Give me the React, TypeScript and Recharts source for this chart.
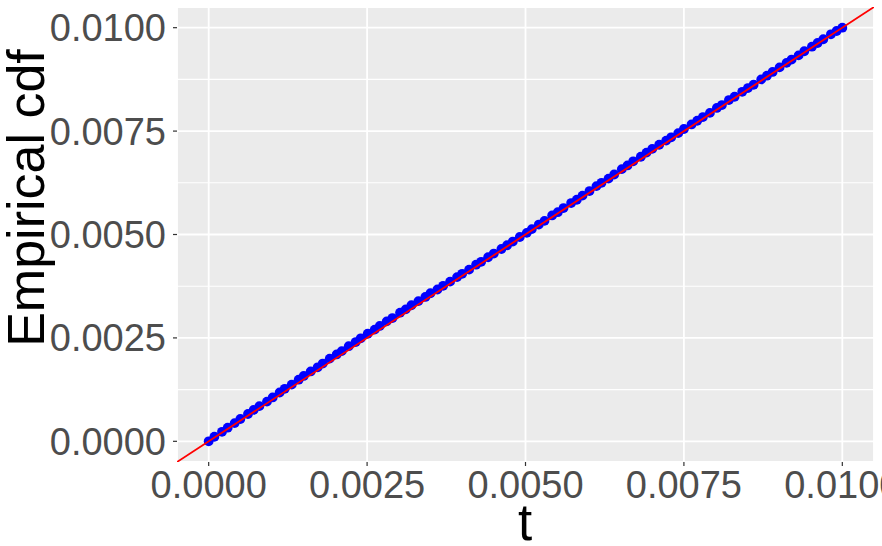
import React from 'react';
import { ScatterChart, Scatter, XAxis, YAxis, CartesianGrid, Label } from 'recharts';

// Empirical cdf points (t, F(t))
const tValues = [
  0.00000, 0.00009, 0.00021, 0.00030, 0.00041, 0.00050, 0.00062, 0.00071, 0.00080, 0.00092,
  0.00101, 0.00112, 0.00120, 0.00131, 0.00142, 0.00150, 0.00161, 0.00172, 0.00180, 0.00191,
  0.00202, 0.00210, 0.00221, 0.00232, 0.00240, 0.00251, 0.00262, 0.00270, 0.00281, 0.00290,
  0.00302, 0.00311, 0.00320, 0.00331, 0.00342, 0.00350, 0.00361, 0.00370, 0.00381, 0.00392,
  0.00400, 0.00411, 0.00422, 0.00430, 0.00441, 0.00450, 0.00462, 0.00471, 0.00480, 0.00491,
  0.00502, 0.00510, 0.00521, 0.00530, 0.00542, 0.00551, 0.00560, 0.00572, 0.00581, 0.00590,
  0.00601, 0.00612, 0.00620, 0.00631, 0.00640, 0.00652, 0.00661, 0.00670, 0.00682, 0.00691,
  0.00700, 0.00711, 0.00722, 0.00730, 0.00741, 0.00750, 0.00762, 0.00771, 0.00780, 0.00791,
  0.00802, 0.00810, 0.00821, 0.00830, 0.00842, 0.00851, 0.00860, 0.00872, 0.00881, 0.00890,
  0.00901, 0.00912, 0.00920, 0.00931, 0.00940, 0.00952, 0.00961, 0.00970, 0.00982, 0.00991,
  0.01000,
];
const cdfValues = [
  0.00000, 0.00011, 0.00023, 0.00033, 0.00044, 0.00054, 0.00066, 0.00076, 0.00085, 0.00096,
  0.00106, 0.00118, 0.00127, 0.00137, 0.00149, 0.00158, 0.00169, 0.00179, 0.00188, 0.00200,
  0.00210, 0.00218, 0.00230, 0.00240, 0.00249, 0.00260, 0.00270, 0.00279, 0.00290, 0.00298,
  0.00311, 0.00319, 0.00329, 0.00339, 0.00349, 0.00358, 0.00367, 0.00376, 0.00386, 0.00397,
  0.00405, 0.00415, 0.00427, 0.00434, 0.00445, 0.00454, 0.00465, 0.00474, 0.00483, 0.00494,
  0.00504, 0.00513, 0.00524, 0.00533, 0.00546, 0.00554, 0.00564, 0.00576, 0.00584, 0.00594,
  0.00605, 0.00617, 0.00625, 0.00635, 0.00645, 0.00658, 0.00667, 0.00677, 0.00688, 0.00698,
  0.00707, 0.00717, 0.00727, 0.00735, 0.00745, 0.00755, 0.00766, 0.00775, 0.00784, 0.00794,
  0.00806, 0.00813, 0.00825, 0.00833, 0.00845, 0.00854, 0.00862, 0.00875, 0.00884, 0.00893,
  0.00904, 0.00915, 0.00923, 0.00933, 0.00943, 0.00954, 0.00963, 0.00972, 0.00984, 0.00992,
  0.01000,
];

// Reference line y = x spanning the panel
const refLineValues = [-0.0005, 0.0105];

const axisDomain = [-0.0005, 0.0105];
const majorTicks = [0, 0.0025, 0.005, 0.0075, 0.01];
const minorTicks = [0.00125, 0.00375, 0.00625, 0.00875];

const xTitle = 't';
const yTitle = 'Empirical cdf';

const data = tValues.map((t, i) => ({ t, cdf: cdfValues[i] }));
const refData = refLineValues.map((v) => ({ t: v, cdf: v }));

const FONT = '"Liberation Sans", Arial, sans-serif';
const tickStyle = { fill: '#4D4D4D', fontSize: 38, fontFamily: FONT };

const Dot = (props: any) => <circle cx={props.cx} cy={props.cy} r={4.9} fill="#0000FF" />;
const NoDot = () => <g />;

export default function App() {
  return (
    <div style={{ position: 'absolute', left: 0, top: 0 }}>
      <ScatterChart
        width={882}
        height={546}
        margin={{ top: 7, right: 8, left: 0, bottom: 0 }}
        style={{ background: '#FFFFFF' }}
      >
        <XAxis xAxisId="minor" type="number" domain={axisDomain} allowDataOverflow ticks={minorTicks} hide />
        <YAxis yAxisId="minor" type="number" domain={axisDomain} allowDataOverflow ticks={minorTicks} hide />
        <CartesianGrid
          xAxisId="minor"
          yAxisId="minor"
          fill="#EBEBEB"
          stroke="#FFFFFF"
          strokeWidth={1.1}
        />
        <CartesianGrid stroke="#FFFFFF" strokeWidth={1.8} fill="none" />
        <XAxis
          type="number"
          dataKey="t"
          domain={axisDomain}
          allowDataOverflow
          ticks={majorTicks}
          tickFormatter={(v: number) => v.toFixed(4)}
          tick={tickStyle}
          tickSize={4}
          tickMargin={5}
          tickLine={{ stroke: '#333333', strokeWidth: 1.2 }}
          axisLine={false}
          height={84}
          interval={0}
        >
          <Label
            value={xTitle}
            content={() => (
              <text x={525} y={540} textAnchor="middle" fontSize={51} fontFamily={FONT} fill="#000000">
                {xTitle}
              </text>
            )}
          />
        </XAxis>
        <YAxis
          type="number"
          dataKey="cdf"
          domain={axisDomain}
          allowDataOverflow
          ticks={majorTicks}
          tickFormatter={(v: number) => v.toFixed(4)}
          tick={tickStyle}
          tickSize={4}
          tickMargin={7}
          tickLine={{ stroke: '#333333', strokeWidth: 1.2 }}
          axisLine={false}
          width={177}
          interval={0}
        >
          <Label
            value={yTitle}
            content={() => (
              <text
                x={44}
                y={198}
                transform="rotate(-90, 44, 198)"
                textAnchor="middle"
                fontSize={52}
                fontFamily={FONT}
                fill="#000000"
              >
                {yTitle}
              </text>
            )}
          />
        </YAxis>
        <Scatter data={data} shape={Dot} isAnimationActive={false} />
        <Scatter
          data={refData}
          shape={NoDot}
          line={{ stroke: '#FF0000', strokeWidth: 1.8 }}
          isAnimationActive={false}
        />
      </ScatterChart>
    </div>
  );
}
